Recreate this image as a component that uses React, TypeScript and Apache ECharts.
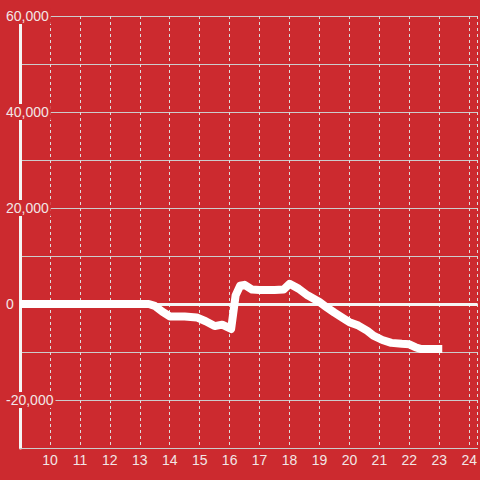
import React, { useEffect, useRef } from "react";
import * as echarts from "echarts";

const hours = [9, 13.3, 13.5, 13.75, 14.0, 14.5, 14.9, 15.2, 15.5, 15.75, 16.05, 16.2, 16.35, 16.5, 16.75, 17.0, 17.5, 17.8, 18.0, 18.3, 18.6, 19.0, 19.2, 19.5, 19.8, 20.0, 20.3, 20.6, 20.8, 21.1, 21.4, 21.75, 22.0, 22.2, 22.4, 23.1];
const values = [0, 0, -400, -1600, -2600, -2600, -2800, -3600, -4600, -4300, -5200, 1800, 3800, 4000, 3000, 2900, 2900, 3000, 4200, 3200, 1800, 400, -500, -1800, -3000, -3800, -4500, -5600, -6600, -7500, -8100, -8300, -8400, -9000, -9400, -9400];

const BG = "#cc2a2f";
const LABEL = "#f2e6e6";

export default function App() {
  const ref = useRef<HTMLDivElement>(null);
  useEffect(() => {
    document.body.style.margin = "0";
    const chart = echarts.init(ref.current!, null, { renderer: "svg" });
    chart.setOption({
      animation: false,
      backgroundColor: BG,
      grid: { left: 20, right: 0, top: 16, bottom: 32, containLabel: false },
      xAxis: {
        type: "value",
        min: 9,
        max: 24.28,
        interval: 1,
        axisLine: { onZero: false, lineStyle: { color: "#cccccc", width: 1 } },
        axisTick: { show: false },
        axisLabel: {
          color: LABEL,
          fontSize: 14,
          fontFamily: "Liberation Sans, Arial, sans-serif",
          margin: 5,
          showMinLabel: false,
          showMaxLabel: false,
          formatter: (v: number) => (Number.isInteger(v) && v > 9 ? String(v) : ""),
        },
        splitLine: { show: true, lineStyle: { color: "#dddddd", width: 1, type: [3, 3] } },
      },
      yAxis: {
        type: "value",
        min: -30000,
        max: 60000,
        interval: 10000,
        axisLine: { show: true, onZero: false, lineStyle: { color: "#f5f5f5", width: 3 } },
        axisTick: { show: false },
        axisLabel: {
          color: LABEL,
          fontSize: 14,
          fontFamily: "Liberation Sans, Arial, sans-serif",
          align: "left",
          margin: 14,
          formatter: (v: number) => {
            if (Math.round(v / 10000) % 2 !== 0) return "";
            return "{a|" + v.toLocaleString("en-US") + "}";
          },
          rich: {
            a: {
              color: LABEL,
              fontSize: 14,
              fontFamily: "Liberation Sans, Arial, sans-serif",
              backgroundColor: BG,
              padding: [1, 2, 1, 0],
            },
          },
        },
        splitLine: { show: true, lineStyle: { color: "#cccccc", width: 1 } },
      },
      series: [
        {
          type: "line",
          data: hours.map((h, i) => [h, values[i]]),
          symbol: "none",
          lineStyle: { color: "#ffffff", width: 8, join: "round", cap: "butt" },
          markLine: {
            silent: true,
            symbol: "none",
            label: { show: false },
            lineStyle: { color: "#f5f5f5", width: 3, type: "solid" },
            data: [{ yAxis: 0 }],
            z: 1,
          },
        },
      ],
    });
    return () => chart.dispose();
  }, []);
  return <div ref={ref} style={{ width: 480, height: 480 }} />;
}
